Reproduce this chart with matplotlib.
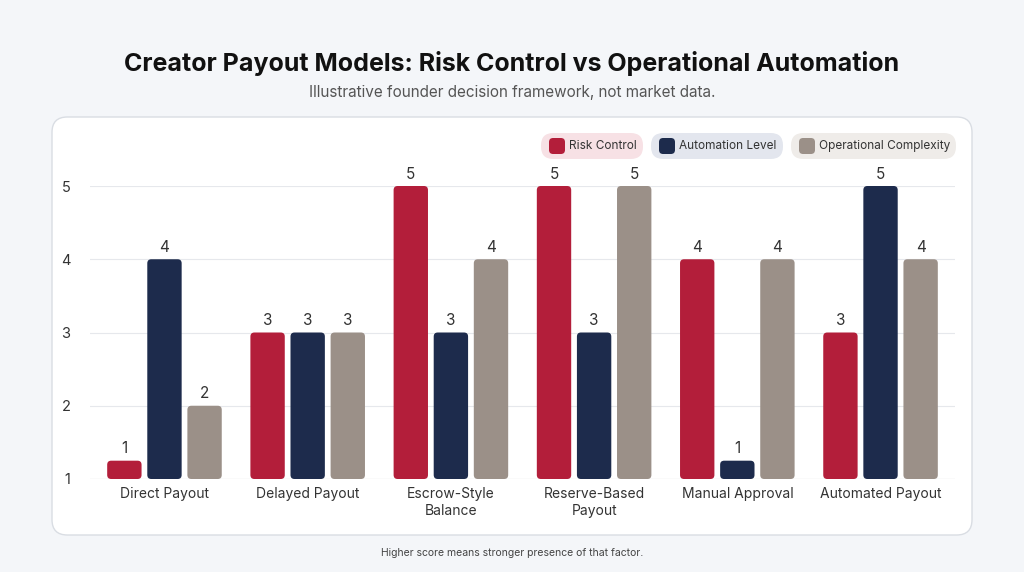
import matplotlib
matplotlib.use("Agg")
import matplotlib.pyplot as plt
from matplotlib.patches import FancyBboxPatch
import numpy as np

categories = ["Direct Payout", "Delayed Payout", "Escrow-Style\nBalance", "Reserve-Based\nPayout", "Manual Approval", "Automated Payout"]
series = ["Risk Control", "Automation Level", "Operational Complexity"]
risk = [1, 3, 5, 5, 4, 3]
automation = [4, 3, 3, 3, 1, 5]
complexity = [2, 3, 4, 5, 4, 4]
values = [risk, automation, complexity]
colors = ["#B31E3A", "#1D2B4C", "#9B9088"]
tints = ["#F7E1E5", "#E3E6EE", "#EFECE9"]

plt.rcParams['font.family'] = ['Inter', 'DejaVu Sans']
fig = plt.figure(figsize=(10.24, 5.72), dpi=100, facecolor="#F4F6F9")
W, H = 1024, 572
def fx(x): return x / W
def fy(y): return 1 - y / H

panel = FancyBboxPatch((fx(52), fy(535)), fx(972) - fx(52), fy(117) - fy(535),
                       boxstyle="round,pad=0,rounding_size=0.015", transform=fig.transFigure,
                       facecolor="white", edgecolor="#D9DDE3", linewidth=1, mutation_aspect=W / H,
                       zorder=-5)
fig.patches.append(panel)

fig.text(0.5, fy(63), "Creator Payout Models: Risk Control vs Operational Automation",
         ha="center", va="center", fontsize=18, fontweight="bold", color="#111111")
fig.text(0.5, fy(93), "Illustrative founder decision framework, not market data.",
         ha="center", va="center", fontsize=11, color="#555555")
fig.text(0.5, fy(553), "Higher score means stronger presence of that factor.",
         ha="center", va="center", fontsize=7.5, color="#444444")

ax = fig.add_axes([fx(90), fy(479), fx(955) - fx(90), fy(186) - fy(479)])
ax.set_zorder(5)
ax.patch.set_alpha(0)
ax.set_xlim(-0.52, 5.52)
ax.set_ylim(1, 5)
ax.set_yticks([1, 2, 3, 4, 5])
ax.yaxis.grid(True, color="#E6E8EC", linewidth=0.8)
ax.set_axisbelow(True)
for s in ax.spines.values():
    s.set_visible(False)
ax.tick_params(axis="both", length=0, labelsize=10.5, colors="#333333")
ax.tick_params(axis="y", pad=14)
x = np.arange(len(categories))
ax.set_xticks(x)
ax.set_xticklabels(categories, fontsize=10)
ax.tick_params(axis="x", pad=6)
ax.axhline(1, color="#CCCCCC", linewidth=0.8)

bw = 0.24
offs = [-0.28, 0, 0.28]
for vals, c, o in zip(values, colors, offs):
    for xi, v in zip(x, vals):
        h = max(v - 1, 0.25)
        p = FancyBboxPatch((xi + o - bw / 2, 1), bw, h,
                           boxstyle="round,pad=0,rounding_size=0.028", mutation_aspect=1.97,
                           facecolor=c, edgecolor="none", clip_on=False, zorder=3)
        ax.add_patch(p)
        ax.text(xi + o, 1 + h + 0.06, str(v), ha="center", va="bottom", fontsize=11,
                color="#333333", clip_on=False)

pills = [(541, 643), (651, 783), (791, 956)]
for (x0, x1), name, c, t in zip(pills, series, colors, tints):
    fig.patches.append(FancyBboxPatch((fx(x0), fy(159)), fx(x1) - fx(x0), fy(133) - fy(159),
                       boxstyle="round,pad=0,rounding_size=0.012", transform=fig.transFigure,
                       facecolor=t, edgecolor="none", mutation_aspect=W / H))
    fig.patches.append(FancyBboxPatch((fx(x0 + 8), fy(154)), fx(16), fy(138) - fy(154),
                       boxstyle="round,pad=0,rounding_size=0.004", transform=fig.transFigure,
                       facecolor=c, edgecolor="none", mutation_aspect=W / H))
    fig.text(fx(x0 + 28), fy(146), name, ha="left", va="center", fontsize=8.5, color="#333333")

fig.savefig("out.png", dpi=100, facecolor=fig.get_facecolor())
